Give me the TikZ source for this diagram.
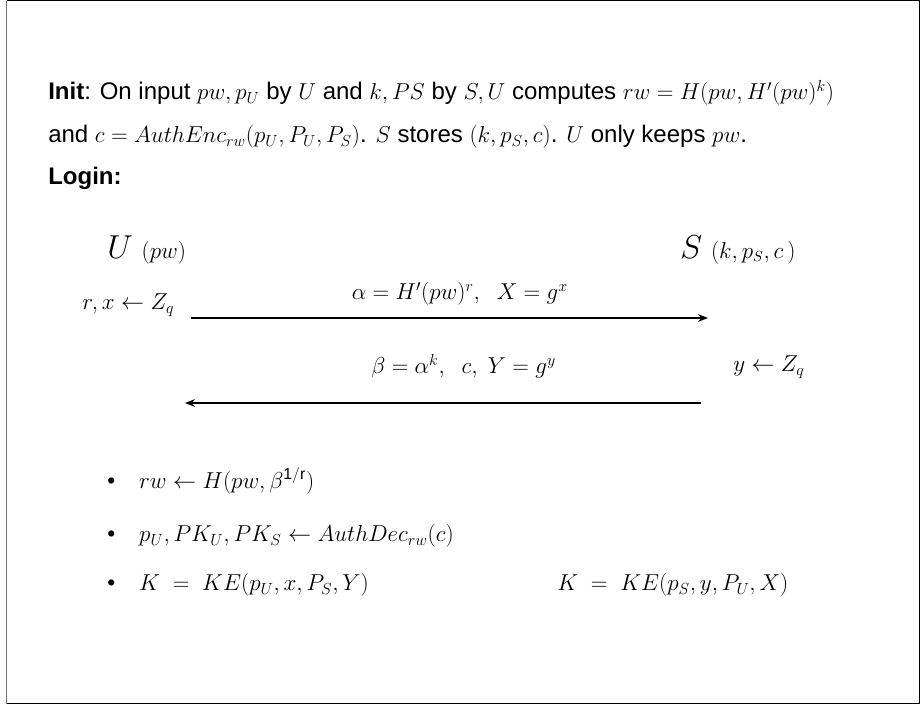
\documentclass[tikz,border=0pt]{standalone}
\usepackage{fontspec}
\setmainfont{Liberation Sans}
\usepackage{amsmath}
\usetikzlibrary{arrows.meta,positioning}

\begin{document}
\begin{tikzpicture}[x=0.75pt,y=-0.75pt,
    txt/.style={anchor=west, inner sep=0pt, font=\fontsize{18}{20}\selectfont},
    party/.style={anchor=west, inner sep=0pt, font=\fontsize{24}{28}\selectfont},
    msg/.style={inner sep=0pt, font=\fontsize{17.5}{20}\selectfont},
    bul/.style={anchor=west, inner sep=0pt, font=\fontsize{17}{20}\selectfont},
    arr/.style={-{Stealth[length=2.6mm,width=2mm]}, line width=1.3pt}
]
\useasboundingbox (0,0) rectangle (920,705);
% frame
\draw[line width=0.9pt] (6.5,0.8) -- (919.2,0.8) -- (919.2,703.5) -- (6.5,703.5);
\draw[line width=1.4pt, black!55] (6.5,0.8) -- (6.5,703.5);

% init and login text
\node[txt] (init) at (48,93) {\textbf{Init}: On input $pw, p_U$ by $U$ and $k, PS$ by $S, U$ computes $rw = H(pw, H'(pw)^k)$};
\node[txt] (enc) at (48,137) {and $c = AuthEnc_{rw}(p_U, P_U, P_S)$. $S$ stores $(k, p_S, c)$. $U$ only keeps $pw$.};
\node[txt] (login) at (48,178) {\textbf{Login:}};

% parties
\node[party] (user) at (107,250) {$U$ {\fontsize{16}{18}\selectfont$(pw)$}};
\node[party] (server) at (680,250) {$S$ {\fontsize{16}{18}\selectfont$(k, p_S, c\,)$}};
\node[txt] (ux) at (82,305) {$r, x \leftarrow Z_q$};
\node[txt] (sy) at (733,367) {$y \leftarrow Z_q$};

% messages
\coordinate (m1s) at (191,318);
\coordinate (m1e) at (708,318);
\coordinate (m2s) at (701,403);
\coordinate (m2e) at (185,403);
\draw[arr] (m1s) -- (m1e) node[msg, pos=0.52, above=9pt] (msga) {$\alpha = H'(pw)^r,\ \ X = g^x$};
\draw[arr] (m2s) -- (m2e) node[msg, pos=0.46, above=18pt] (msgb) {$\beta = \alpha^k,\ \ c,\ Y = g^y$};

% after login
\node[bul] (b1) at (107,481) {\textbullet\hspace{18pt}$rw \leftarrow H(pw, \beta^{\mathrm{1/r}})$};
\node[bul] (b2) at (107,536) {\textbullet\hspace{18pt}$p_U, PK_U, PK_S \leftarrow AuthDec_{rw}(c)$};
\node[bul] (b3) at (107,585) {\textbullet\hspace{18pt}$K \;=\; KE(p_U, x, P_S, Y)$};
\node[bul] (ks) at (557,585) {$K \;=\; KE(p_S, y, P_U, X)$};
\end{tikzpicture}
\end{document}
